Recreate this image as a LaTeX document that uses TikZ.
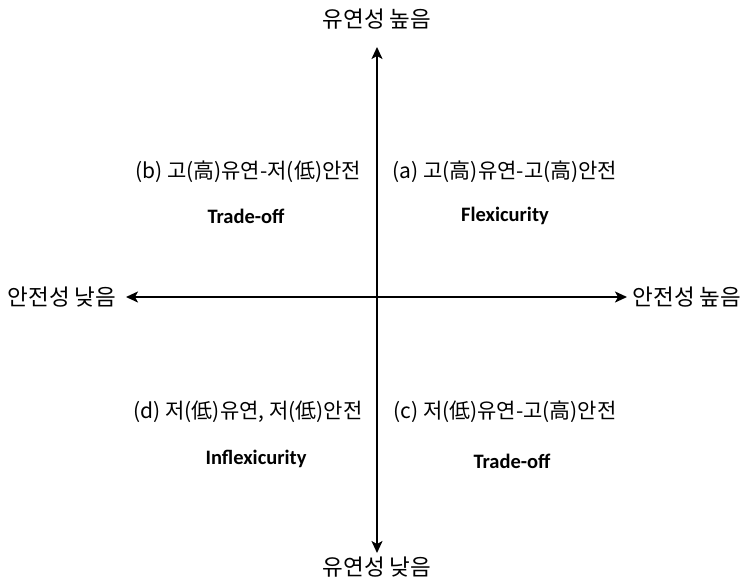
\documentclass[tikz,border=0pt]{standalone}
\usepackage{fontspec}
\setmainfont{Carlito}
\newfontfamily\kor{Noto Sans CJK KR}
\usepackage{tikz}
\usetikzlibrary{arrows.meta}

\begin{document}
\begin{tikzpicture}[x=1pt, y=-1pt,
    axis/.style={line width=1.7pt, {Stealth[length=12pt,width=11pt,inset=3pt]}-{Stealth[length=12pt,width=11pt,inset=3pt]}},
    axislabel/.style={font=\kor\fontsize{22.5}{25}\selectfont, inner sep=0pt},
    quadlabel/.style={font=\kor\fontsize{21}{24}\selectfont, inner sep=0pt},
    typelabel/.style={font=\bfseries\fontsize{20.5}{24}\selectfont, inner sep=0pt}]
    \useasboundingbox (0,0) rectangle (746,581);
    % axes
    \coordinate (ytop) at (377,47);
    \coordinate (ybot) at (377,553);
    \coordinate (xlft) at (126,297);
    \coordinate (xrgt) at (627,297);
    \draw[axis] (ybot) -- (ytop);
    \draw[axis] (xlft) -- (xrgt);
    % axis labels
    \node[axislabel] (flexhi) at (377,19) {유연성 높음};
    \node[axislabel] (flexlo) at (377,567) {유연성 낮음};
    \node[axislabel] (seclo) at (62,297) {안전성 낮음};
    \node[axislabel] (sechi) at (687,297) {안전성 높음};
    % quadrants
    \node[quadlabel] (qb) at (248,172) {(b) 고(高)유연-저(低)안전};
    \node[typelabel] (tb) at (246,216) {Trade-off};
    \node[quadlabel] (qa) at (505,172) {(a) 고(高)유연-고(高)안전};
    \node[typelabel] (ta) at (505,216) {Flexicurity};
    \node[quadlabel] (qd) at (248,412) {(d) 저(低)유연, 저(低)안전};
    \node[typelabel] (td) at (256,459) {Inflexicurity};
    \node[quadlabel] (qc) at (505,412) {(c) 저(低)유연-고(高)안전};
    \node[typelabel] (tc) at (512,461) {Trade-off};
\end{tikzpicture}
\end{document}
